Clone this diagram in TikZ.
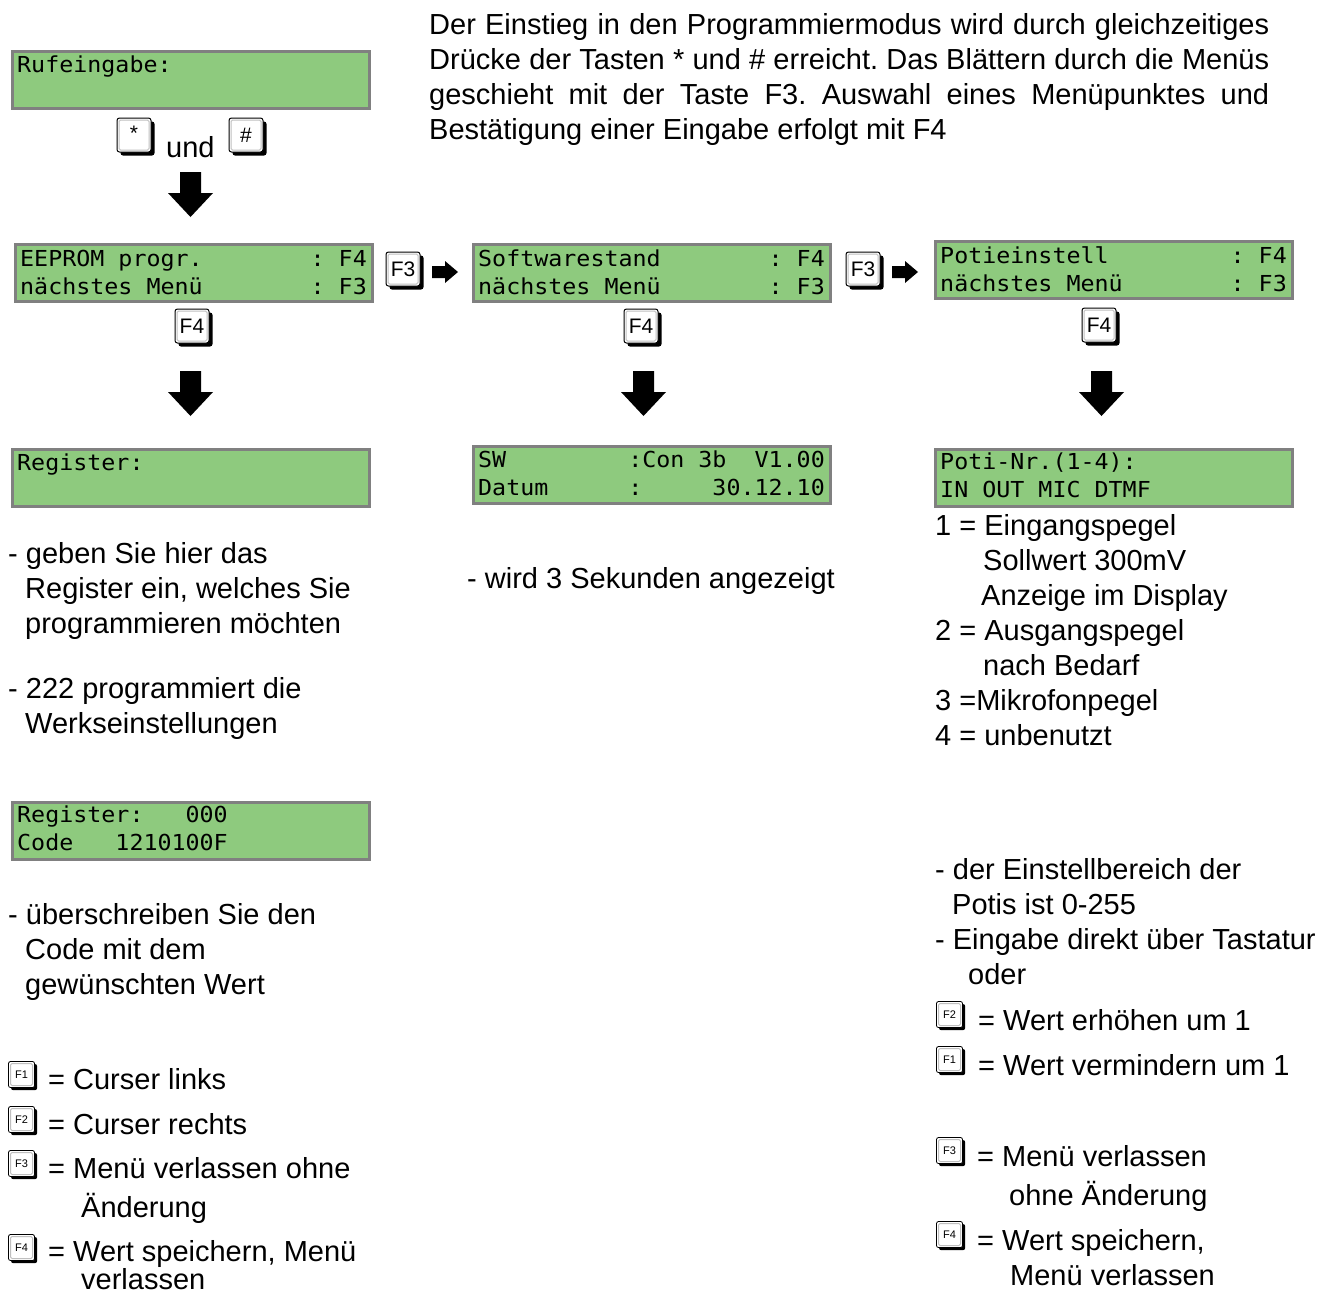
\documentclass[tikz,border=0pt]{standalone}
\usepackage{fontspec}
\setmainfont{Liberation Sans}
\newfontfamily\lcdfont[FakeStretch=1.06]{DejaVu Sans Mono}
\usetikzlibrary{shadows}
\frenchspacing
\definecolor{lcdgreen}{RGB}{142,202,126}
\definecolor{lcdframe}{RGB}{128,128,128}
\newcommand\bigdownarrow[2]{\fill (#1,#2) ++(-10.5,0) -- ++(21,0) -- ++(0,21) -- ++(12,0) -- ++(-22.5,24) -- ++(-22.5,-24) -- ++(12,0) -- cycle;}
\newcommand\smallrightarrow[2]{\fill (#1,#2) ++(0,-6) -- ++(13,0) -- ++(0,-5) -- ++(13,11) -- ++(-13,11) -- ++(0,-5) -- ++(-13,0) -- cycle;}
\begin{document}
\begin{tikzpicture}[x=1pt,y=-1pt,
  lcd/.style={draw=lcdframe, line width=3pt, fill=lcdgreen, anchor=north west,
    minimum width=357pt, minimum height=57pt, inner sep=0pt},
  lcdtxt/.style={inner sep=0pt, font=\lcdfont\fontsize{22}{22}\selectfont},
  txt/.style={inner sep=0pt, anchor=base west, font=\fontsize{29}{35}\selectfont},
  keybevel/.style={path picture={\draw[gray!50, line width=1pt, rounded corners=1.5pt]
      ([shift={(2pt,-2pt)}]path picture bounding box.north west) rectangle
      ([shift={(-2pt,2pt)}]path picture bounding box.south east);}},
  bigkey/.style={draw=black, line width=1pt, fill=white, rounded corners=2.5pt,
    minimum width=34pt, minimum height=34pt, inner sep=0pt, keybevel,
    font=\fontsize{21}{21}\selectfont,
    drop shadow={shadow xshift=3.5pt, shadow yshift=-3.5pt, fill=black, opacity=1}},
  smallkey/.style={draw=black, line width=0.8pt, fill=white, rounded corners=2pt,
    minimum width=26pt, minimum height=26pt, inner sep=0pt, keybevel,
    font=\fontsize{11}{11}\selectfont,
    drop shadow={shadow xshift=2.6pt, shadow yshift=-2.6pt, fill=black, opacity=1}}
]
\useasboundingbox (0,0) rectangle (1333,1296);

% ---------- top paragraph ----------
\node[txt] (p1) at (429,34) {\makebox[840pt][s]{Der Einstieg in den Programmiermodus wird durch gleichzeitiges}};
\node[txt] (p2) at (429,69) {\makebox[840pt][s]{Drücke der Tasten * und \# erreicht. Das Blättern durch die Menüs}};
\node[txt] (p3) at (429,104) {\makebox[840pt][s]{geschieht mit der Taste F3. Auswahl eines Menüpunktes und}};
\node[txt] (p4) at (429,139) {Bestätigung einer Eingabe erfolgt mit F4};

% ---------- Rufeingabe ----------
\node[lcd] (ruf) at (10.5,49.5) {};
\node[lcdtxt, anchor=base west] (ruf1) at (17,72) {Rufeingabe:};

\node[bigkey] (kstar) at (134,135) {\raisebox{3pt}{*}};
\node[txt] (und) at (166,157) {und};
\node[bigkey] (khash) at (246,135) {\#};
\bigdownarrow{190.5}{172}

% ---------- menu row ----------
\node[lcd] (eeprom) at (13.5,242.5) {};
\node[lcdtxt, anchor=base west] (e1) at (20,266) {EEPROM progr.};
\node[lcdtxt, anchor=base east] (e1r) at (367,266) {: F4};
\node[lcdtxt, anchor=base west] (e2) at (20,294) {nächstes Menü};
\node[lcdtxt, anchor=base east] (e2r) at (367,294) {: F3};

\node[bigkey] (kf3a) at (403,269) {F3};
\smallrightarrow{432}{272}

\node[lcd] (soft) at (471.5,242.5) {};
\node[lcdtxt, anchor=base west] (s1) at (478,266) {Softwarestand};
\node[lcdtxt, anchor=base east] (s1r) at (825,266) {: F4};
\node[lcdtxt, anchor=base west] (s2) at (478,294) {nächstes Menü};
\node[lcdtxt, anchor=base east] (s2r) at (825,294) {: F3};

\node[bigkey] (kf3b) at (863,269) {F3};
\smallrightarrow{892}{272}

\node[lcd] (poti) at (933.5,239.5) {};
\node[lcdtxt, anchor=base west] (o1) at (940,263) {Potieinstell};
\node[lcdtxt, anchor=base east] (o1r) at (1287,263) {: F4};
\node[lcdtxt, anchor=base west] (o2) at (940,291) {nächstes Menü};
\node[lcdtxt, anchor=base east] (o2r) at (1287,291) {: F3};

% ---------- F4 keys and arrows ----------
\node[bigkey] (kf4a) at (192,326) {F4};
\node[bigkey] (kf4b) at (641,326) {F4};
\node[bigkey] (kf4c) at (1099,325) {F4};
\bigdownarrow{190.5}{371}
\bigdownarrow{643.5}{371}
\bigdownarrow{1101.5}{371}

% ---------- second row displays ----------
\node[lcd] (reg) at (10.5,447.5) {};
\node[lcdtxt, anchor=base west] (r1) at (17,470) {Register:};

\node[lcd] (sw) at (471.5,444.5) {};
\node[lcdtxt, anchor=base west] (w1) at (478,467) {SW};
\node[lcdtxt, anchor=base east] (w1r) at (825,467) {:Con 3b~~V1.00};
\node[lcdtxt, anchor=base west] (w2) at (478,495) {Datum};
\node[lcdtxt, anchor=base east] (w2r) at (825,495) {:~~~~~30.12.10};

\node[lcd] (potinr) at (933.5,447.5) {};
\node[lcdtxt, anchor=base west] (n1) at (940,469) {Poti-Nr.(1-4):};
\node[lcdtxt, anchor=base west] (n2) at (940,497) {IN OUT MIC DTMF};

% ---------- left column text ----------
\node[txt] (l1) at (8,563) {- geben Sie hier das};
\node[txt] (l2) at (25,598) {Register ein, welches Sie};
\node[txt] (l3) at (25,633) {programmieren möchten};
\node[txt] (l4) at (8,698) {- 222 programmiert die};
\node[txt] (l5) at (25,733) {Werkseinstellungen};

\node[lcd] (regcode) at (10.5,800.5) {};
\node[lcdtxt, anchor=base west] (c1) at (17,822) {Register:~~~000};
\node[lcdtxt, anchor=base west] (c2) at (17,850) {Code~~~1210100F};

\node[txt] (l6) at (8,924) {- überschreiben Sie den};
\node[txt] (l7) at (25,959) {Code mit dem};
\node[txt] (l8) at (25,994) {gewünschten Wert};

\node[smallkey] (lk1) at (21.5,1074.5) {F1};
\node[txt] (lt1) at (48,1089) {= Curser links};
\node[smallkey] (lk2) at (21.5,1119.5) {F2};
\node[txt] (lt2) at (48,1134) {= Curser rechts};
\node[smallkey] (lk3) at (21.5,1163.5) {F3};
\node[txt] (lt3) at (48,1178) {= Menü verlassen ohne};
\node[txt] (lt3b) at (81,1217) {Änderung};
\node[smallkey] (lk4) at (21.5,1247.5) {F4};
\node[txt] (lt4) at (48,1261) {= Wert speichern, Menü};
\node[txt] (lt4b) at (81,1289) {verlassen};

% ---------- middle text ----------
\node[txt] (m1) at (467,588) {- wird 3 Sekunden angezeigt};

% ---------- right column text ----------
\node[txt] (q1) at (935,535) {1 = Eingangspegel};
\node[txt] (q2) at (983,570) {Sollwert 300mV};
\node[txt] (q3) at (981,605) {Anzeige im Display};
\node[txt] (q4) at (935,640) {2 = Ausgangspegel};
\node[txt] (q5) at (983,675) {nach Bedarf};
\node[txt] (q6) at (935,710) {3 =Mikrofonpegel};
\node[txt] (q7) at (935,745) {4 = unbenutzt};

\node[txt] (q8) at (935,879) {- der Einstellbereich der};
\node[txt] (q9) at (952,914) {Potis ist 0-255};
\node[txt] (q10) at (935,949) {- Eingabe direkt über Tastatur};
\node[txt] (q11) at (968,984) {oder};

\node[smallkey] (rk2) at (949.5,1014.5) {F2};
\node[txt] (rt2) at (978,1030) {= Wert erhöhen um 1};
\node[smallkey] (rk1) at (949.5,1059.5) {F1};
\node[txt] (rt1) at (978,1075) {= Wert vermindern um 1};
\node[smallkey] (rk3) at (949.5,1150.5) {F3};
\node[txt] (rt3) at (977,1166) {= Menü verlassen};
\node[txt] (rt3b) at (1009,1205) {ohne Änderung};
\node[smallkey] (rk4) at (949.5,1234.5) {F4};
\node[txt] (rt4) at (977,1250) {= Wert speichern,};
\node[txt] (rt4b) at (1010,1285) {Menü verlassen};
\end{tikzpicture}
\end{document}
